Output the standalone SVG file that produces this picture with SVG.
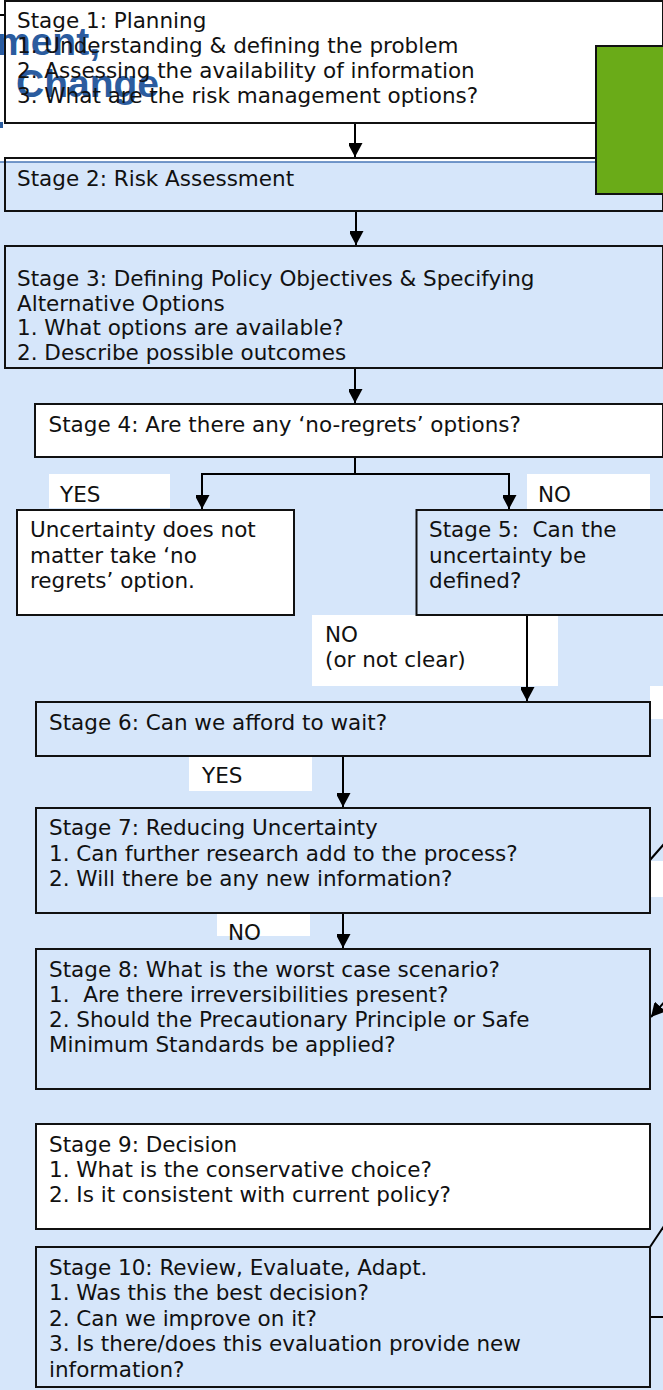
<svg xmlns="http://www.w3.org/2000/svg" width="663" height="1390" viewBox="0 0 663 1390">
<defs>
<style>
.t{font-family:"DejaVu Sans","Liberation Sans",sans-serif;font-size:21.5px;fill:#111}
.box{stroke:#111;stroke-width:2;fill:none}
.wbox{stroke:#111;stroke-width:2;fill:#fff}
.lbl{fill:#fff}
.c{stroke:#000;stroke-width:2;fill:none}
.logo{font-family:"Liberation Sans",Arial,sans-serif;font-weight:bold;font-size:39px;fill:#2b5c9f}
</style>
<marker id="ah" markerWidth="15" markerHeight="14" refX="14" refY="7.5" orient="auto" markerUnits="userSpaceOnUse">
<path d="M0,0 L14,7.5 L0,15 Z" fill="#000"/>
</marker>
</defs>
<rect width="663" height="1390" fill="#fff"/>
<rect x="-2" y="162" width="667" height="1230" fill="#d6e6fa" stroke="#4a78b8" stroke-width="1.5"/>
<g id="logo">
<text class="logo" x="-4" y="55">ment,</text>
<text class="logo" x="16" y="97">Change</text>
<rect x="0" y="122" width="3" height="6" fill="#2b5c9f"/>
</g>
<g id="labels">
<rect class="lbl" x="49" y="474" width="121" height="34"/>
<text class="t" x="60" y="502">YES</text>
<rect class="lbl" x="527" y="474" width="123" height="36"/>
<text class="t" x="538" y="502">NO</text>
<rect class="lbl" x="312" y="615" width="246" height="71"/>
<text class="t" x="325" y="642">NO</text>
<text class="t" x="325" y="667">(or not clear)</text>
<rect class="lbl" x="650" y="686" width="13" height="33"/>
<rect class="lbl" x="189" y="757" width="123" height="34"/>
<text class="t" x="202" y="783">YES</text>
<rect class="lbl" x="651" y="861" width="12" height="36"/>
<rect class="lbl" x="217" y="914" width="93" height="22"/>
<text class="t" x="228" y="940">NO</text>
</g>
<g id="connectors">
<line class="c" x1="355" y1="123" x2="355" y2="157" marker-end="url(#ah)"/>
<line class="c" x1="356" y1="211" x2="356" y2="245" marker-end="url(#ah)"/>
<line class="c" x1="355" y1="369" x2="355" y2="403" marker-end="url(#ah)"/>
<polyline class="c" points="355,458 355,474 202,474 202,509" marker-end="url(#ah)"/>
<polyline class="c" points="355,474 509,474 509,509" marker-end="url(#ah)"/>
<line class="c" x1="527" y1="615" x2="527" y2="701" marker-end="url(#ah)"/>
<line class="c" x1="343" y1="756" x2="343" y2="807" marker-end="url(#ah)"/>
<line class="c" x1="343" y1="913" x2="343" y2="948" marker-end="url(#ah)"/>
<line class="c" x1="650" y1="860" x2="664" y2="844"/>
<line class="c" x1="666" y1="1000" x2="651" y2="1017" marker-end="url(#ah)"/>
<line class="c" x1="650" y1="1247" x2="664" y2="1226"/>
<line class="c" x1="650" y1="1317" x2="664" y2="1317"/>
<line class="c" x1="0" y1="15" x2="5" y2="15"/>
</g>
<g id="stage1">
<rect class="box" x="5" y="1" width="658" height="122"/>
<text class="t" x="17" y="28">Stage 1: Planning</text>
<text class="t" x="17" y="53">1. Understanding &amp; defining the problem</text>
<text class="t" x="17" y="78">2. Assessing the availability of information</text>
<text class="t" x="17" y="103">3. What are the risk management options?</text>
</g>
<g id="stage2">
<rect class="box" x="5" y="158" width="658" height="53"/>
<text class="t" x="17" y="186">Stage 2: Risk Assessment</text>
</g>
<g id="green">
<rect x="596" y="46" width="70" height="148" fill="#6aab18" stroke="#111" stroke-width="2"/>
</g>
<g id="stage3">
<rect class="box" x="5" y="246" width="658" height="122"/>
<text class="t" x="17" y="286">Stage 3: Defining Policy Objectives &amp; Specifying</text>
<text class="t" x="17" y="310.5">Alternative Options</text>
<text class="t" x="17" y="335">1. What options are available?</text>
<text class="t" x="17" y="359.5">2. Describe possible outcomes</text>
</g>
<g id="stage4">
<rect class="wbox" x="35" y="404" width="628" height="53"/>
<text class="t" x="48.5" y="432">Stage 4: Are there any ‘no-regrets’ options?</text>
</g>
<g id="noregrets">
<rect class="wbox" x="17" y="510" width="277" height="105"/>
<text class="t" x="30" y="537">Uncertainty does not</text>
<text class="t" x="30" y="562.5">matter take ‘no</text>
<text class="t" x="30" y="588">regrets’ option.</text>
</g>
<g id="stage5">
<rect class="box" x="416.5" y="510" width="248" height="105"/>
<text class="t" x="429" y="537" xml:space="preserve">Stage 5:  Can the</text>
<text class="t" x="429" y="562.5">uncertainty be</text>
<text class="t" x="429" y="588">defined?</text>
</g>
<g id="stage6">
<rect class="box" x="36" y="702" width="614" height="54"/>
<text class="t" x="49" y="730">Stage 6: Can we afford to wait?</text>
</g>
<g id="stage7">
<rect class="box" x="36" y="808" width="614" height="105"/>
<text class="t" x="49" y="835">Stage 7: Reducing Uncertainty</text>
<text class="t" x="49" y="860.5">1. Can further research add to the process?</text>
<text class="t" x="49" y="886">2. Will there be any new information?</text>
</g>
<g id="stage8">
<rect class="box" x="36" y="949" width="614" height="140"/>
<text class="t" x="49" y="977">Stage 8: What is the worst case scenario?</text>
<text class="t" x="49" y="1002" xml:space="preserve">1.  Are there irreversibilities present?</text>
<text class="t" x="49" y="1027">2. Should the Precautionary Principle or Safe</text>
<text class="t" x="49" y="1052">Minimum Standards be applied?</text>
</g>
<g id="stage9">
<rect class="wbox" x="36" y="1124" width="614" height="105"/>
<text class="t" x="49" y="1152">Stage 9: Decision</text>
<text class="t" x="49" y="1177">1. What is the conservative choice?</text>
<text class="t" x="49" y="1202">2. Is it consistent with current policy?</text>
</g>
<g id="stage10">
<rect class="box" x="36" y="1247" width="614" height="140"/>
<text class="t" x="49" y="1275">Stage 10: Review, Evaluate, Adapt.</text>
<text class="t" x="49" y="1300">1. Was this the best decision?</text>
<text class="t" x="49" y="1325.5">2. Can we improve on it?</text>
<text class="t" x="49" y="1351">3. Is there/does this evaluation provide new</text>
<text class="t" x="49" y="1376.5">information?</text>
</g>
</svg>
